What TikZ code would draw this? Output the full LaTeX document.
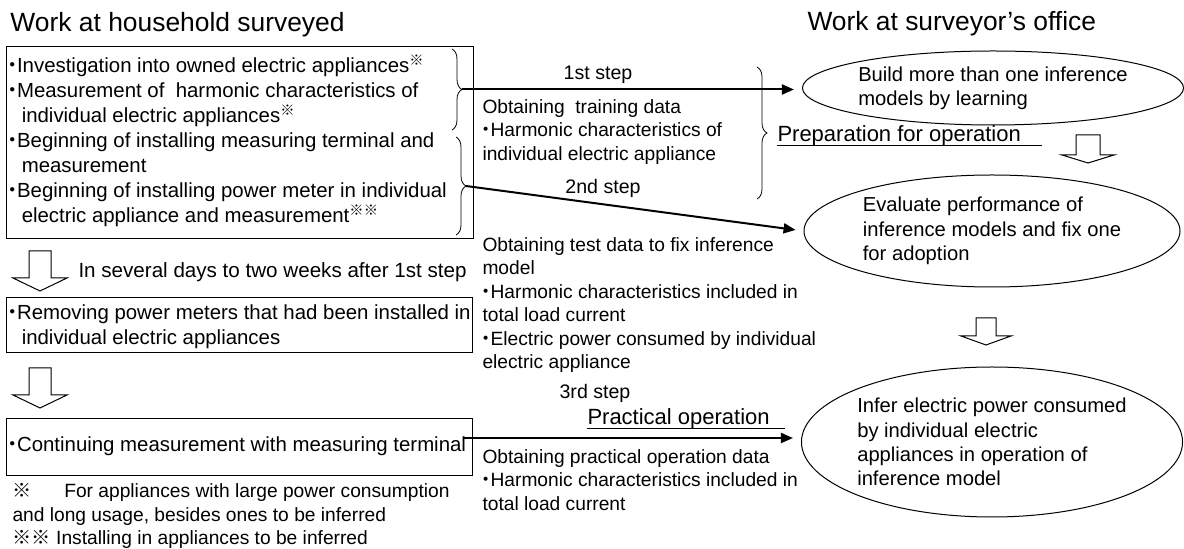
\documentclass[tikz,border=0pt]{standalone}
\usepackage{fontspec}
\setmainfont{Liberation Sans}
\newfontfamily\cjk{Noto Sans CJK JP}
\usetikzlibrary{shapes.geometric,decorations.pathreplacing,arrows.meta,calc}

% reference marks and list bullets used in the wording
\newcommand\refmark{\textsuperscript{\cjk ※}}
\newcommand\refmarks{\textsuperscript{\cjk ※※}}
\newcommand\bul{\makebox[0.42em]{\cjk ・}}
\newcommand\cont{\hspace*{0.65em}}

\begin{document}
\begin{tikzpicture}[
  x=0.5pt,y=-0.5pt,
  line width=0.5pt,
  % frames on the household side
  box/.style={draw,rectangle,anchor=north west,inner sep=0pt},
  % wording blocks, placed by the top left corner of the first line
  txt/.style={align=left,inner sep=0pt,anchor=north west,
              font=\fontsize{10.2}{12.5}\selectfont},
  note/.style={align=left,inner sep=0pt,anchor=north west,
               font=\fontsize{9.6}{11.7}\selectfont},
  head/.style={inner sep=0pt,anchor=west,font=\fontsize{13.2}{15}\selectfont},
  oval/.style={draw,ellipse,align=left,inner sep=0pt,minimum width=188pt,
               font=\fontsize{10.1}{12.2}\selectfont},
  steplbl/.style={inner sep=0pt,font=\fontsize{9.8}{12}\selectfont},
  ulbl/.style={inner sep=0pt,anchor=base west,font=\fontsize{11}{13}\selectfont},
  flow/.style={line width=1pt,-{Triangle[length=6pt,width=5pt]},shorten >=4pt},
  brace/.style={decorate,decoration={brace,amplitude=5pt},line width=0.4pt},
  hollow/.style={draw,fill=white,line width=0.5pt},
]

\useasboundingbox (0,0) rectangle (1184,549);

%--- column headings ----------------------------------------------------------
\node[head] (hhouse)  at (10,25)  {Work at household surveyed};
\node[head] (hoffice) at (807,24) {Work at surveyor’s office};

%--- household side -----------------------------------------------------------
\node[box,minimum width=233.5pt,minimum height=96pt] (b1) at (6,46) {};
\node[txt] (b1txt) at (8,54) {\bul Investigation into owned electric appliances\refmark\\
  \bul Measurement of\ \ harmonic characteristics of\\
  \cont individual electric appliances\refmark\\
  \bul Beginning of installing measuring terminal and\\
  \cont measurement\\
  \bul Beginning of installing power meter in individual\\
  \cont electric appliance and measurement\refmarks};

\node[box,minimum width=233pt,minimum height=27.5pt] (b2) at (6,297) {};
\node[txt] (b2txt) at (8,304) {\bul Removing power meters that had been installed in\\
  \cont individual electric appliances};

\node[box,minimum width=233pt,minimum height=28.5pt] (b3) at (6,418) {};
\node[txt,anchor=west] (b3txt) at (8,446) {\bul Continuing measurement with measuring terminal};

\node[txt,anchor=west,font=\fontsize{10.3}{13}\selectfont] (later) at (78,272)
  {In several days to two weeks after 1st step};

% footnotes under the last frame
\node[note] (fnote) at (12,483) {{\cjk ※}\hspace{1.7em}For appliances with large power consumption\\
  and long usage, besides ones to be inferred\\
  {\cjk ※※}\ Installing in appliances to be inferred};

% downward block arrows: x / top / neck / tip / half shaft / half head
\foreach \x/\ya/\yb/\yc/\sw/\hw in {40/251/278/291/11/27, 40/368/395/408/11/27,
                                    1088/135/155/163/12/26, 986/318/336/345/10/25}
  \draw[hollow] (\x-\sw,\ya) -- (\x+\sw,\ya) -- (\x+\sw,\yb) -- (\x+\hw,\yb)
    -- (\x,\yc) -- (\x-\hw,\yb) -- (\x-\sw,\yb) -- cycle;

%--- braces grouping the tasks ------------------------------------------------
\draw[brace] (452,49) -- (452,130);
\coordinate (t1) at (462,89.5);
\draw[brace] (456,137) -- (456,235);
\coordinate (t2) at (466,186);
\draw[brace] (757,67) -- (757,199);
\coordinate (t3) at (463,438);

%--- surveyor's office ----------------------------------------------------------
\node[oval,minimum height=37pt] (e1) at (993,88)
  {Build more than one inference\\models by learning};
\node[oval,minimum height=56pt] (e2) at (992,231)
  {Evaluate performance of\\inference models and fix one\\for adoption};
\node[oval,minimum height=75pt] (e3) at (992,442)
  {Infer electric power consumed\\by individual electric\\appliances in operation of\\inference model};

%--- steps between the two sides ------------------------------------------------
\draw[flow] (t1) -- (t1 -| e1.west);
\draw[flow] (t2) -- (e2.west);
\draw[flow] (t3) -- (t3 -| e3.west);

\node[steplbl] (s1) at (598,75)  {1st step};
\node[steplbl] (s2) at (603,188) {2nd step};
\node[steplbl] (s3) at (595,393) {3rd step};

\node[note] (dtrain) at (482,99) {Obtaining\ \ training data\\
  \bul Harmonic characteristics of\\
  individual electric appliance};
\node[note] (dtest) at (482,237) {Obtaining test data to fix inference\\
  model\\
  \bul Harmonic characteristics included in\\
  total load current\\
  \bul Electric power consumed by individual\\
  electric appliance};
\node[note] (dprac) at (482,449) {Obtaining practical operation data\\
  \bul Harmonic characteristics included in\\
  total load current};

% underlined phase names
\node[ulbl] (prep) at (777,142) {Preparation for operation};
\draw ($(prep.base west)+(0,4)$) -- ++(265,0);
\node[ulbl] (prac) at (587,425) {Practical operation};
\draw ($(prac.base west)+(0,4)$) -- ++(198,0);

\end{tikzpicture}
\end{document}
